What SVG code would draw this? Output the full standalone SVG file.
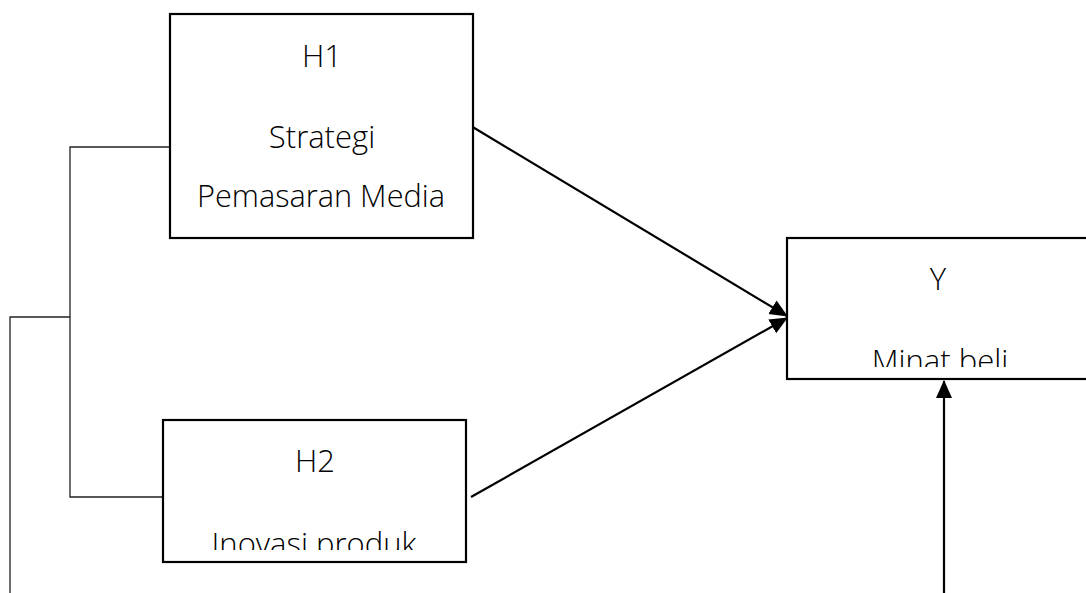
<svg xmlns="http://www.w3.org/2000/svg" width="1086" height="593" viewBox="0 0 1086 593">
<style>
.box{fill:#fff;stroke:#000;stroke-width:2.2}
.t{font-family:"Open Sans","Noto Sans",sans-serif;font-weight:300;font-size:31px;fill:#000;text-anchor:middle}
.thin{fill:none;stroke:#222;stroke-width:1.3}
.arr{fill:none;stroke:#000;stroke-width:2.2}
</style>
<defs>
<marker id="ah" markerUnits="userSpaceOnUse" markerWidth="18" markerHeight="18" viewBox="0 0 18 18" refX="17" refY="9" orient="auto">
<path d="M0,1 L18,9 L0,17 Z" fill="#000"/>
</marker>
<clipPath id="c2"><rect x="150" y="410" width="330" height="140"/></clipPath>
<clipPath id="cy"><rect x="780" y="230" width="306" height="137"/></clipPath>
</defs>
<g id="connectors">
<polyline class="thin" points="170,147 70,147 70,497 163,497"/>
<polyline class="thin" points="70,317 10,317 10,593"/>
<line class="arr" x1="471" y1="126" x2="787" y2="316" marker-end="url(#ah)"/>
<line class="arr" x1="471" y1="497" x2="787" y2="318" marker-end="url(#ah)"/>
<line class="arr" x1="944" y1="593" x2="944" y2="381" marker-end="url(#ah)"/>
</g>
<g id="h1">
<rect class="box" x="170" y="14" width="303" height="224"/>
<text class="t" x="322" y="67">H1</text>
<text class="t" x="322" y="148">Strategi</text>
<text class="t" x="321" y="207" textLength="248" lengthAdjust="spacingAndGlyphs">Pemasaran Media</text>
</g>
<g id="h2">
<rect class="box" x="163" y="420" width="303" height="142"/>
<text class="t" x="315" y="472">H2</text>
<text class="t" x="314" y="555" clip-path="url(#c2)">Inovasi produk</text>
</g>
<g id="y">
<rect class="box" x="787" y="238" width="320" height="141"/>
<text class="t" x="938" y="290">Y</text>
<text class="t" x="940" y="372" clip-path="url(#cy)">Minat beli</text>
</g>
</svg>
